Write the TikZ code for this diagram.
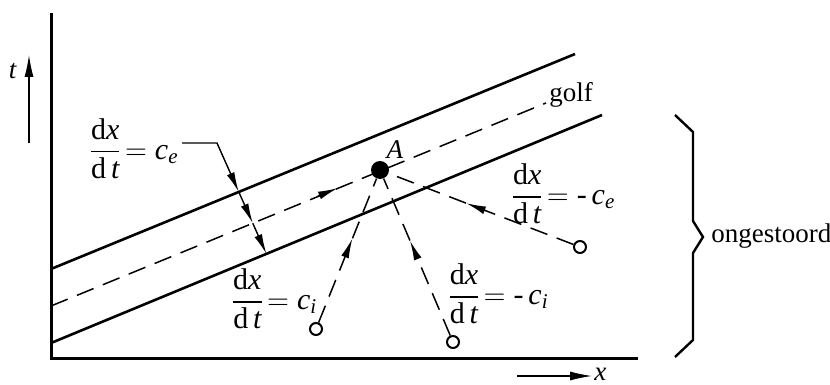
\documentclass[tikz,border=0pt]{standalone}
\usepackage{amsmath}
\usepackage{fontspec}
\setmainfont{Liberation Serif}
\usetikzlibrary{arrows.meta,calc}
\newcommand{\dxdt}{\dfrac{\mathrm{d}\mathit{x}}{\mathrm{d}\,\mathit{t}}}
\begin{document}
\begin{tikzpicture}[x=0.5pt,y=-0.5pt,
  every node/.style={font=\fontsize{13.5}{15}\selectfont, inner sep=0pt},
  fraclab/.style={font=\fontsize{15}{17}\selectfont},
  axisline/.style={line width=1.5pt},
  wave/.style={line width=1.3pt},
  dashline/.style={line width=0.75pt, dash pattern=on 9pt off 5pt},
  tip/.style={-{Latex[length=10pt,width=4pt]}},
  src/.style={circle, draw, line width=1pt, minimum size=6pt, fill=white},
]
\useasboundingbox (0,0) rectangle (830,385);
% axes
\coordinate (top) at (51,13);
\coordinate (orig) at (51,358);
\coordinate (xend) at (638,358);
\draw[axisline] (top) -- (orig) -- (xend);
\coordinate (ta) at (29,143);
\coordinate (tb) at (29,55);
\draw[line width=0.6pt, -{Latex[length=11pt,width=4.5pt]}] (ta) -- (tb);
\node (tlab) at (13,71) {\textit{t}};
\coordinate (xa) at (517,376);
\coordinate (xb) at (592,376);
\draw[line width=0.6pt, -{Latex[length=11pt,width=4.5pt]}] (xa) -- (xb);
\node[anchor=west] (xlab) at (594,374) {\textit{x}};
% wave boundaries
\coordinate (u1) at (51,269); \coordinate (u2) at (575,54);
\coordinate (l1) at (51,343); \coordinate (l2) at (602,115);
\coordinate (d1) at (51,306); \coordinate (d2) at (546,103);
\draw[wave] (u1) -- (u2);
\draw[wave] (l1) -- (l2);
\draw[dashline] (d1) -- (d2);
\node[anchor=west] (golf) at (549,95) {golf};
% point A
\node[circle, fill=black, minimum size=9pt] (A) at (380,170) {};
\node (Alab) at (395,150) {\textit{A}};
% arrow on the wave line toward A
\coordinate (wa) at (318,196);
\coordinate (wb) at (338,188);
\draw[line width=0.75pt, tip] (wa) -- (wb);
% sources
\node[src] (ci) at (316,329) {};
\node[src] (mci) at (453,342) {};
\node[src] (mce) at (580,247) {};
\coordinate (m1) at ($(ci)!0.57!(A)$);
\coordinate (m2) at ($(mci)!0.59!(A)$);
\coordinate (m3) at ($(mce)!0.57!(A)$);
\draw[dashline, tip] (ci) -- (m1);
\draw[dashline] (m1) -- (A);
\draw[dashline, tip] (mci) -- (m2);
\draw[dashline] (m2) -- (A);
\draw[dashline, tip] (mce) -- (m3);
\draw[dashline] (m3) -- (A);
% labels
\node[fraclab, anchor=east] (ce) at (179,149) {$\dxdt\!=\mathit{c}_{\mathit{e}}$};
\node[fraclab] (cil) at (274,299) {$\dxdt\!=\mathit{c}_{\mathit{i}}$};
\node[fraclab] (mcil) at (498,294) {$\dxdt\!=\text{-}\,\mathit{c}_{\mathit{i}}$};
\node[fraclab] (mcel) at (563,194) {$\dxdt\!=\text{-}\,\mathit{c}_{\mathit{e}}$};
% leader for c_e
\coordinate (k0) at (182,143);
\coordinate (k1) at (217,143);
\coordinate (k2) at (238.8,192);
\coordinate (k3) at (252.8,223.3);
\coordinate (k4) at (266.4,253.9);
\draw[line width=0.7pt, tip] (k0) -- (k1) -- (k2);
\draw[line width=0.7pt, tip] (k2) -- (k3);
\draw[line width=0.7pt, tip] (k3) -- (k4);
% brace
\coordinate (b1) at (675,115); \coordinate (b2) at (693,132);
\coordinate (b3) at (693,221); \coordinate (b4) at (703,237);
\coordinate (b5) at (693,253); \coordinate (b6) at (693,340);
\coordinate (b7) at (675,357);
\draw[line width=1.2pt, line join=miter] (b1) -- (b2) -- (b3) -- (b4) -- (b5) -- (b6) -- (b7);
\node[anchor=west] (ong) at (711,236) {ongestoord};
\end{tikzpicture}
\end{document}
